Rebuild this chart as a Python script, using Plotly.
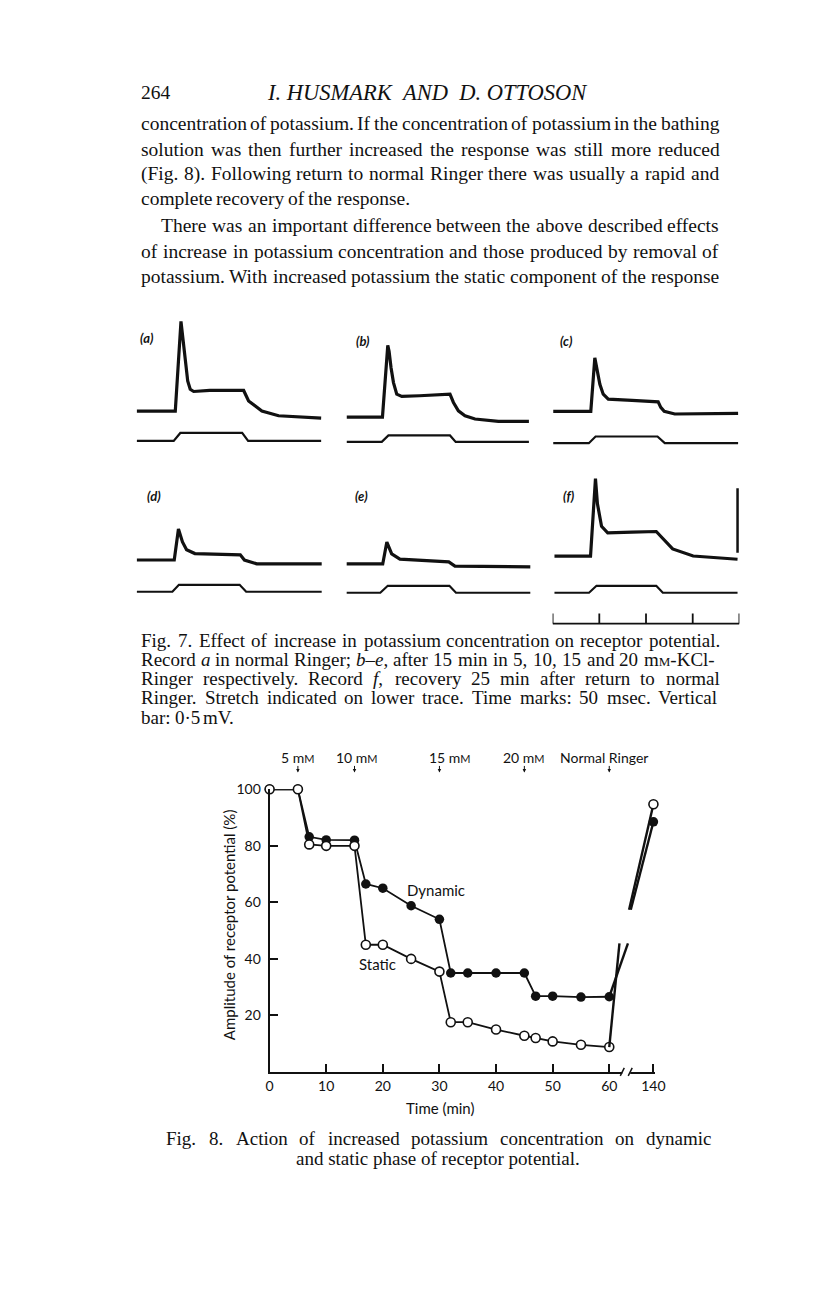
import re
import plotly.graph_objects as go

PAGE_W, PAGE_H = 816, 1296
MARGIN = 8                      # default page margin of the html body
FIG_W, FIG_H = 790, 1230        # small enough that the page never needs scrollbars
X_SCALE, X_OFF = 0.982, 2.0     # measured horizontal scaling of the photographed page
INK = "#111111"

# ---------------------------------------------------------------- Fig. 8 data
TIME_MIN = [0, 5, 7, 10, 15, 17, 20, 25, 30, 32, 35, 40, 45, 47, 50, 55, 60]
DYNAMIC = [100, 100, 83.2, 82.1, 82, 66.5, 65, 58.8, 54, 35, 35, 35, 35, 26.8, 26.8, 26.5, 26.6]
STATIC = [100, 100, 80.5, 80, 80, 45, 45, 40, 35.5, 17.6, 17.6, 15, 12.8, 12, 10.8, 9.6, 8.8]
RECOVERY_TIME = 140
DYNAMIC_RECOVERY = 88.5
STATIC_RECOVERY = 94.7
# where the recovery lines are interrupted (drawn break)
DYN_BREAK_X = [63.3, 63.8]
STAT_BREAK_X = [61.8, 63.5]
BREAK_Y = [45.5, 57.4]
CHANGE_TIMES = [5, 15, 30, 45, 60]
CHANGE_LABELS = ["5 m<span style='font-size:11px'>M</span>",
                 "10 m<span style='font-size:11px'>M</span>",
                 "15 m<span style='font-size:11px'>M</span>",
                 "20 m<span style='font-size:11px'>M</span>",
                 "Normal Ringer"]
X_TICKS = [0, 10, 20, 30, 40, 50, 60]
Y_TICKS = [20, 40, 60, 80, 100]
BROKEN_POS = 67.8  # display position of the 140 min point after the axis break

# ---------------------------------------------------------------- Fig. 7 data (msec, mV)
TIME_A = [2, 43.1, 49.2, 52.1, 53.8, 56.4, 59.1, 62.8, 80, 100, 116.3, 121.6, 128.7, 135.8, 153.7, 199.3]
MV_A = [0, 0, 0.695, 0.515, 0.362, 0.233, 0.169, 0.152, 0.16, 0.16, 0.16, 0.079, 0.04, 0.0, -0.036, -0.054]
TIME_B = [2.1, 40.3, 46.0, 47.4, 49.5, 52.1, 55.6, 61.0, 80, 100, 112.6, 116.3, 121.6, 128.7, 139.4, 164.4, 197.1]
MV_B = [0, 0, 0.556, 0.51, 0.382, 0.267, 0.177, 0.16, 0.165, 0.17, 0.177, 0.113, 0.048, 0.01, -0.015, -0.033, -0.033]
TIME_C = [0.7, 40.9, 45.2, 48.1, 50.6, 54.2, 59.6, 85, 113, 115.8, 119.5, 130.8, 198.6]
MV_C = [0, 0, 0.415, 0.312, 0.21, 0.133, 0.095, 0.085, 0.074, 0.031, 0, -0.02, -0.015]
TIME_D = [2, 42, 46.5, 50.8, 55.2, 64.1, 112.7, 117.1, 130.4, 200]
MV_D = [0, 0, 0.24, 0.14, 0.08, 0.05, 0.04, 0.0, -0.03, -0.03]
TIME_E = [2, 40.6, 45, 50.2, 59, 111.3, 117.9, 198.6]
MV_E = [0, 0, 0.17, 0.078, 0.038, 0.016, -0.016, -0.022]
TIME_F = [2, 40.6, 45.9, 48, 52.4, 59, 85, 111, 115.5, 128.5, 150.5, 198]
MV_F = [0, 0, 0.6, 0.405, 0.23, 0.18, 0.185, 0.19, 0.155, 0.055, 0, -0.025]
# stretch (lower trace): onset start, onset end, release start, release end (msec)
STRETCH_A = [41.4, 48.5, 114.7, 121.1]
STRETCH_B = [39.6, 46.7, 112.6, 118.7]
STRETCH_C = [38.8, 46.0, 112.3, 120.1]
STRETCH_D = [40, 47, 112, 119]
STRETCH_E = [38, 46, 112, 119]
STRETCH_F = [39, 47, 111, 118]
PANEL_LABELS = ["a", "b", "c", "d", "e", "f"]
TIME_MARKS_MS = [0, 50, 100, 150, 200]
SCALE_BAR_MV = 0.5

# ---------------------------------------------------------------- page text
HEADER_NUM = "264"
HEADER = "I. HUSMARK\u00a0\u00a0AND\u00a0\u00a0D. OTTOSON"
BODY = [
    ("concentration of potassium. If the concentration of potassium in the bathing", True, 0),
    ("solution was then further increased the response was still more reduced", True, 0),
    ("(Fig. 8). Following return to normal Ringer there was usually a rapid and", True, 0),
    ("complete recovery of the response.", False, 0),
    ("There was an important difference between the above described effects", True, 20),
    ("of increase in potassium concentration and those produced by removal of", True, 0),
    ("potassium. With increased potassium the static component of the response", True, 0),
]
CAPTION7 = [
    ("Fig. 7. Effect of increase in potassium concentration on receptor potential.", True),
    ("Record <i>a</i> in normal Ringer; <i>b–e</i>, after 15 min in 5, 10, 15 and 20 m<span style='font-size:13px'>M</span>-KCl-", True),
    ("Ringer respectively. Record <i>f</i>, recovery 25 min after return to normal", True),
    ("Ringer. Stretch indicated on lower trace. Time marks: 50 msec. Vertical", True),
    ("bar: 0·5 mV.", False),
]
CAPTION8 = ["Fig. 8. Action of increased potassium concentration on dynamic",
            "and static phase of receptor potential."]

# Times / Liberation Serif advance widths (1/1000 em)
TW = {' ': 250, '.': 250, ',': 250, ':': 278, ';': 278, '(': 333, ')': 333, '-': 333, '–': 500, '·': 250,
      '%': 833}
TW.update({c: 500 for c in "0123456789"})
TW.update(dict(zip("ABCDEFGHIJKLMNOPQRSTUVWXYZ",
                   [722, 667, 667, 722, 611, 556, 722, 722, 333, 389, 722, 611, 889, 722, 722, 556, 722, 667,
                    556, 611, 722, 722, 944, 722, 722, 611])))
TW.update(dict(zip("abcdefghijklmnopqrstuvwxyz",
                   [444, 500, 444, 500, 444, 333, 500, 500, 278, 278, 500, 278, 778, 500, 500, 500, 500, 333,
                    389, 278, 500, 500, 722, 500, 500, 444])))


def text_w(s, size):
    plain = re.sub(r"<[^>]+>", "", s)
    return sum(TW.get(c, 500) for c in plain) * size / 1000.0


def px_x(p):
    return ((p - X_OFF) / X_SCALE - MARGIN) / FIG_W


def px_y(p):
    return 1 - (p - MARGIN) / FIG_H


annotations = []
shapes = []


def note(text, x, y, size, family="Lato", xanchor="center", angle=0):
    annotations.append(dict(text=text, x=px_x(x), y=px_y(y), xref="paper", yref="paper",
                            xanchor=xanchor, yanchor="middle", showarrow=False, borderpad=0,
                            textangle=angle, font=dict(family=family, size=size, color=INK)))


def add_text_line(line, y, size, left, right, justify, family="Liberation Serif"):
    words = re.split(r" (?![^<]*>)", line)
    widths = [text_w(w, size) * X_SCALE for w in words]
    if justify and len(words) > 1:
        gap = (right - left - sum(widths)) / (len(words) - 1)
    else:
        gap = 0.25 * size * X_SCALE
    x = left
    for w, wd in zip(words, widths):
        note(w, x, y, size, family=family, xanchor="left")
        x += wd + gap


TEXT_L, TEXT_R = 138, 716
BODY_SIZE = 19.5
CAP_SIZE = 19

note(HEADER_NUM, TEXT_L, 84, 19.5, family="Liberation Serif", xanchor="left")
note("<i>" + HEADER + "</i>", 425.5, 84, 22.5, family="Liberation Serif")

body_y = [115, 141, 166, 191, 218, 244, 269]
for (line, just, indent), y in zip(BODY, body_y):
    add_text_line(line, y, BODY_SIZE, TEXT_L + indent, TEXT_R, just)

cap_y = [636, 655.3, 674.6, 693.9, 713.2]
for (line, just), y in zip(CAPTION7, cap_y):
    add_text_line(line, y, CAP_SIZE, TEXT_L, TEXT_R, just)

add_text_line(CAPTION8[0], 1138, CAP_SIZE, 163, 708, True)
note(CAPTION8[1], 436, 1158, CAP_SIZE, family="Liberation Serif")

fig = go.Figure()

# ---------------------------------------------------------------- Fig. 8 geometry
F8_X0, F8_PX_PER_UNIT = 267.7, 5.667
F8_XMAX = 68.0
F8_Y_BOTTOM, F8_Y_TOP = 1070.7, 786.0


def f8x(t):
    return F8_X0 + t * F8_PX_PER_UNIT


fig.add_trace(go.Scatter(x=TIME_MIN, y=DYNAMIC, mode="lines+markers", xaxis="x", yaxis="y",
                         line=dict(color=INK, width=1.8),
                         marker=dict(symbol="circle", size=9.5, color=INK), cliponaxis=False, showlegend=False))
fig.add_trace(go.Scatter(x=TIME_MIN, y=STATIC, mode="lines+markers", xaxis="x", yaxis="y",
                         line=dict(color=INK, width=1.8),
                         marker=dict(symbol="circle", size=9, color="white", line=dict(color=INK, width=1.6)),
                         cliponaxis=False, showlegend=False))
# recovery lines with the break
fig.add_trace(go.Scatter(x=[TIME_MIN[-1], DYN_BREAK_X[0], None, DYN_BREAK_X[1], BROKEN_POS],
                         y=[DYNAMIC[-1], BREAK_Y[0], None, BREAK_Y[1], DYNAMIC_RECOVERY],
                         mode="lines", line=dict(color=INK, width=2.4), cliponaxis=False, showlegend=False,
                         xaxis="x", yaxis="y"))
fig.add_trace(go.Scatter(x=[TIME_MIN[-1], STAT_BREAK_X[0], None, STAT_BREAK_X[1], BROKEN_POS],
                         y=[STATIC[-1], BREAK_Y[0], None, BREAK_Y[1], STATIC_RECOVERY],
                         mode="lines", line=dict(color=INK, width=2.4), cliponaxis=False, showlegend=False,
                         xaxis="x", yaxis="y"))
fig.add_trace(go.Scatter(x=[BROKEN_POS], y=[DYNAMIC_RECOVERY], mode="markers", xaxis="x", yaxis="y",
                         marker=dict(size=9.5, color=INK), cliponaxis=False, showlegend=False))
fig.add_trace(go.Scatter(x=[BROKEN_POS], y=[STATIC_RECOVERY], mode="markers", xaxis="x", yaxis="y",
                         marker=dict(size=9, color="white", line=dict(color=INK, width=1.6)),
                         cliponaxis=False, showlegend=False))

axis_font = dict(family="Lato", size=14, color=INK)
layout_axes = dict(
    xaxis=dict(domain=[px_x(F8_X0), px_x(f8x(F8_XMAX))], range=[0, F8_XMAX], anchor="y",
               tickvals=X_TICKS + [BROKEN_POS], ticktext=[str(t) for t in X_TICKS] + [str(RECOVERY_TIME)],
               ticks="inside", ticklen=8, tickwidth=1.5, tickcolor=INK, showline=True, linewidth=2,
               linecolor=INK, showgrid=False, zeroline=False, tickfont=axis_font, ticklabelstandoff=0),
    yaxis=dict(domain=[px_y(F8_Y_BOTTOM), px_y(F8_Y_TOP)], range=[0, 100], anchor="x",
               tickvals=Y_TICKS, ticks="inside", ticklen=8, tickwidth=1.5, tickcolor=INK,
               showline=True, linewidth=2, linecolor=INK, showgrid=False, zeroline=False,
               tickfont=axis_font, ticklabelstandoff=4),
)

# axis break marks on the time axis
gap_l, gap_r = f8x(62.3), f8x(63.7)
shapes.append(dict(type="rect", xref="paper", yref="paper", x0=px_x(gap_l), x1=px_x(gap_r),
                   y0=px_y(F8_Y_BOTTOM + 3), y1=px_y(F8_Y_BOTTOM - 3), fillcolor="white",
                   line=dict(width=0), layer="above"))
for gx in (gap_l, gap_r):
    shapes.append(dict(type="line", xref="paper", yref="paper", x0=px_x(gx - 2), x1=px_x(gx + 2),
                       y0=px_y(F8_Y_BOTTOM + 4), y1=px_y(F8_Y_BOTTOM - 4),
                       line=dict(color=INK, width=1.5), layer="above"))

# solution change arrows and labels
label_shift = [0, 2, 11, 0, -5]
for t, lab, sh in zip(CHANGE_TIMES, CHANGE_LABELS, label_shift):
    annotations.append(dict(text=lab, x=t, xref="x", y=px_y(754), yref="paper", xanchor="center",
                            yanchor="middle", showarrow=False, xshift=sh,
                            font=dict(family="Lato", size=14, color=INK)))
    annotations.append(dict(text="", x=t, xref="x", y=px_y(769), yref="paper", showarrow=True,
                            ax=0, ay=-8, arrowhead=2, arrowsize=0.7, arrowwidth=1, arrowcolor=INK))

note("Dynamic", 434, 887, 15)
note("Static", 376, 962, 15)
note("Amplitude of receptor potential (%)", 227, 922, 15, angle=-90)
note("Time (min)", 438, 1107, 15)

# ---------------------------------------------------------------- Fig. 7 panels
panels = [(TIME_A, MV_A, STRETCH_A), (TIME_B, MV_B, STRETCH_B), (TIME_C, MV_C, STRETCH_C),
          (TIME_D, MV_D, STRETCH_D), (TIME_E, MV_E, STRETCH_E), (TIME_F, MV_F, STRETCH_F)]
PANEL_X0 = [133, 343, 551, 133, 343, 551]
PANEL_BASE = [405, 411, 405.3, 555, 559, 551]
STRETCH_BASE = [435, 436, 437.3, 587, 588, 588]
STRETCH_STEP = [8, 6.5, 6.7, 7, 7, 7]
LABEL_POS = [(145, 331), (361, 334), (565, 334.5), (152, 491), (360, 491), (567, 491)]
PANEL_W = 187
PX_PER_MV = 130
ABOVE, BELOW = 110, 45

for i, ((tt, mv, st), x0, base, sbase, sstep, lpos, lab) in enumerate(
        zip(panels, PANEL_X0, PANEL_BASE, STRETCH_BASE, STRETCH_STEP, LABEL_POS, PANEL_LABELS)):
    xa = "x%d" % (i + 2)
    ya = "y%d" % (i + 2)
    ys = "y%d" % (i + 8)
    top_px, bot_px = base - ABOVE, base + BELOW
    dom_y = [px_y(bot_px), px_y(top_px)]
    layout_axes["xaxis%d" % (i + 2)] = dict(domain=[px_x(x0), px_x(x0 + PANEL_W)], range=[0, 200],
                                             anchor=ya, visible=False)
    layout_axes["yaxis%d" % (i + 2)] = dict(domain=dom_y, range=[-BELOW / PX_PER_MV, ABOVE / PX_PER_MV],
                                             anchor=xa, visible=False)
    lo = (sbase - bot_px) / sstep
    layout_axes["yaxis%d" % (i + 8)] = dict(domain=dom_y, range=[lo, lo + (ABOVE + BELOW) / sstep],
                                             anchor=xa, visible=False)
    fig.add_trace(go.Scatter(x=tt, y=mv, mode="lines", xaxis=xa, yaxis=ya, cliponaxis=False,
                             line=dict(color=INK, width=3.2), showlegend=False))
    s_t = [tt[0], st[0], st[1], st[2], st[3], tt[-1]]
    s_v = [0, 0, 1, 1, 0, 0]
    fig.add_trace(go.Scatter(x=s_t, y=s_v, mode="lines", xaxis=xa, yaxis=ys, cliponaxis=False,
                             line=dict(color=INK, width=2.2), showlegend=False))
    note("<b><i>(%s)</i></b>" % lab, lpos[0], lpos[1], 13)

# scale bar (0.5 mV) in panel f
fig.add_trace(go.Scatter(x=[198, 198], y=[0.025, 0.025 + SCALE_BAR_MV], mode="lines", xaxis="x7", yaxis="y7",
                         cliponaxis=False, line=dict(color=INK, width=2.5), showlegend=False))
# time marks under panel f
tm_x, tm_y = [TIME_MARKS_MS[0], TIME_MARKS_MS[-1]], [0, 0]
for t in TIME_MARKS_MS:
    tm_x += [None, t, t]
    tm_y += [None, 0, 1]
layout_axes["yaxis14"] = dict(domain=[px_y(625), px_y(605)], range=[-0.6, 1.4], anchor="x7", visible=False)
fig.add_trace(go.Scatter(x=tm_x, y=tm_y, mode="lines", xaxis="x7", yaxis="y14", cliponaxis=False,
                         line=dict(color=INK, width=1.8), showlegend=False))

fig.update_layout(width=FIG_W, height=FIG_H, margin=dict(l=0, r=0, t=0, b=0),
                  paper_bgcolor="white", plot_bgcolor="rgba(0,0,0,0)",
                  annotations=annotations, shapes=shapes, showlegend=False, **layout_axes)

fig.write_html("out.html")
